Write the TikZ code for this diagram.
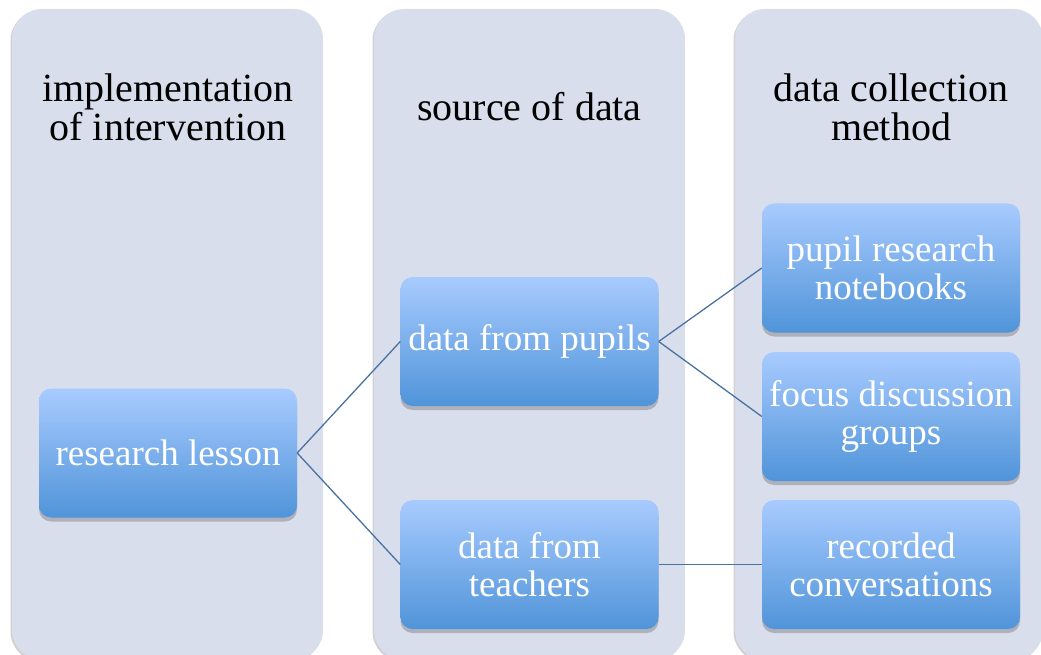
\documentclass[tikz,border=0pt]{standalone}
\usepackage{fontspec}
\setmainfont{Liberation Serif}
\usetikzlibrary{shadows}
\definecolor{colbg}{RGB}{217,222,236}
\definecolor{boxtop}{RGB}{168,203,255}
\definecolor{boxbot}{RGB}{80,148,217}
\definecolor{linkc}{RGB}{74,114,160}
\tikzset{
  col/.style={fill=colbg, rounded corners=30pt,
    drop shadow={shadow xshift=-1.5pt, shadow yshift=-1.5pt, opacity=0.18, fill=black}},
  box/.style={rectangle, rounded corners=12pt, minimum width=258pt, minimum height=129pt,
    top color=boxtop, bottom color=boxbot, text=white, align=center,
    font=\fontsize{37}{38}\selectfont, inner sep=0pt,
    drop shadow={shadow xshift=0pt, shadow yshift=-4pt, opacity=0.3, fill=black!70}},
  head/.style={align=center, font=\fontsize{40}{39}\selectfont, text=black},
  link/.style={draw=linkc, line width=1.3pt}
}
\begin{document}
\begin{tikzpicture}[x=1pt,y=-1pt]
\useasboundingbox (0,0) rectangle (1041,655);
\begin{scope}
\clip (0,0) rectangle (1041,655);
\path[col] (12,9) rectangle (323,660);
\path[col] (374,9) rectangle (685,660);
\path[col] (735,9) rectangle (1043,660);
\end{scope}
\node[head] (h1) at (168,107) {implementation\\of intervention};
\node[head] (h2) at (529.5,107) {source of data};
\node[head] (h3) at (891,107) {data collection\\method};
\node[box] (lesson) at (168,453) {research lesson};
\node[box] (pupils) at (529.5,341.5) {data from pupils};
\node[box] (teachers) at (529.5,564.5) {data from\\teachers};
\node[box] (notebooks) at (891,268) {pupil research\\notebooks};
\node[box] (focus) at (891,416.5) {focus discussion\\groups};
\node[box] (recorded) at (891,564.5) {recorded\\conversations};
\draw[link] (lesson.east) -- (pupils.west);
\draw[link] (lesson.east) -- (teachers.west);
\draw[link] (pupils.east) -- (notebooks.west);
\draw[link] (pupils.east) -- (focus.west);
\draw[link] (teachers.east) -- (recorded.west);
\end{tikzpicture}
\end{document}
